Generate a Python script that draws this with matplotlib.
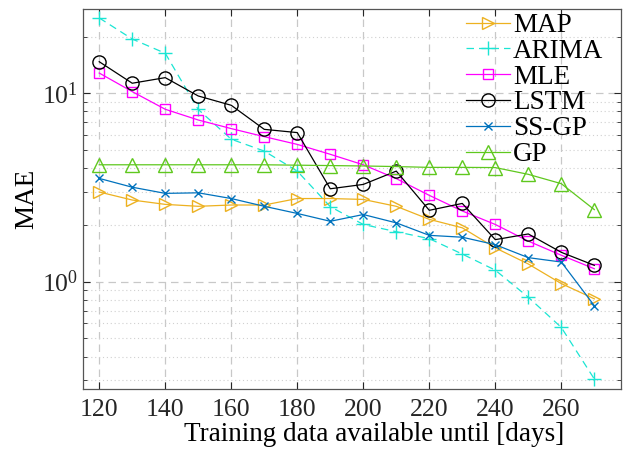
import numpy as np
import matplotlib
matplotlib.use("Agg")
import matplotlib.pyplot as plt

plt.rcParams["font.family"] = ["Liberation Serif", "DejaVu Serif"]
plt.rcParams["mathtext.fontset"] = "stix"

days = [120, 130, 140, 150, 160, 170, 180, 190, 200, 210, 220, 230, 240, 250, 260, 270]

mae_map = [2.99, 2.71, 2.57, 2.51, 2.55, 2.55, 2.76, 2.76, 2.73, 2.51, 2.14, 1.93, 1.51, 1.24, 0.976, 0.81]
mae_arima = [25.1, 19.4, 16.3, 8.2, 5.7, 4.93, 3.86, 2.5, 2.01, 1.84, 1.69, 1.40, 1.15, 0.826, 0.571, 0.304]
mae_mle = [12.8, 10.2, 8.22, 7.21, 6.49, 5.88, 5.35, 4.74, 4.17, 3.52, 2.87, 2.37, 2.01, 1.64, 1.38, 1.17]
mae_lstm = [14.7, 11.3, 12.1, 9.67, 8.63, 6.43, 6.18, 3.11, 3.28, 3.86, 2.39, 2.60, 1.67, 1.79, 1.43, 1.22]
mae_ssgp = [3.53, 3.17, 2.94, 2.96, 2.76, 2.51, 2.30, 2.09, 2.27, 2.05, 1.76, 1.72, 1.57, 1.34, 1.27, 0.745]
mae_gp = [4.17, 4.17, 4.17, 4.17, 4.17, 4.17, 4.15, 4.13, 4.11, 4.08, 4.04, 4.04, 4.03, 3.71, 3.31, 2.41]

fig = plt.figure(figsize=(6.31, 4.55), dpi=100)
ax = fig.add_axes([0.1311, 0.1444, 0.8526, 0.8358])

lw = 0.9
ax.plot(days, mae_map, color="#EDB120", lw=lw, marker=">", ms=9, mfc="none", mew=1.0, label="MAP")
ax.plot(days, mae_arima, color="#1BE5D3", lw=lw, ls=(0, (6, 4)), marker="+", ms=10, mew=1.0, label="ARIMA")
ax.plot(days, mae_mle, color="#FF00FF", lw=lw, marker="s", ms=6.5, mfc="none", mew=1.0, label="MLE")
ax.plot(days, mae_lstm, color="black", lw=lw, marker="o", ms=9.5, mfc="none", mew=1.0, label="LSTM")
ax.plot(days, mae_ssgp, color="#0072BD", lw=lw, marker="x", ms=5.5, mew=1.0, label="SS-GP")
ax.plot(days, mae_gp, color="#5FC81E", lw=lw, marker="^", ms=10, mfc="none", mew=1.0, label="GP")

ax.set_yscale("log")
ax.set_xlim(115, 278)
ax.set_ylim(0.268, 28)
ax.set_xticks(range(120, 261, 20))

ax.grid(True, which="major", color="#c8c8c8", ls=(0, (6, 4)), lw=0.9)
ax.grid(True, which="minor", axis="y", color="#d0d0d0", ls=(0, (1, 2.5)), lw=0.8)
ax.set_axisbelow(True)

ax.tick_params(which="both", direction="in", top=True, right=True, colors="#262626", labelsize=18.5)
ax.tick_params(which="major", length=5, width=0.8)
ax.tick_params(axis="x", which="major", pad=7)
ax.tick_params(which="minor", length=3, width=0.6)
ax.tick_params(axis="y", which="minor", labelleft=False)
for s in ax.spines.values():
    s.set_color("#555555")
    s.set_linewidth(0.9)

ax.set_xlabel("Training data available until [days]", fontsize=19.5, labelpad=3)
ax.xaxis.set_label_coords(0.541, -0.085)
ax.xaxis.label.set_va("top")
ax.set_ylabel("MAE", fontsize=19.5, labelpad=2)

leg = ax.legend(loc="upper right", frameon=False, fontsize=19.5, handlelength=1.6,
                handletextpad=0.12, labelspacing=0.03, borderaxespad=0.0,
                bbox_to_anchor=(0.988, 1.018))

fig.savefig("out.png", dpi=100)
